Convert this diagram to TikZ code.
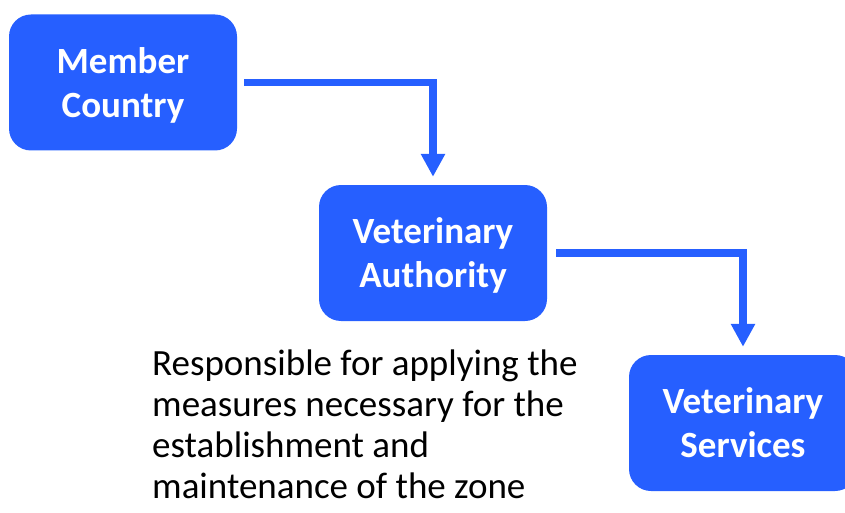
\documentclass[tikz,border=0pt]{standalone}
\usepackage{fontspec}
\setmainfont{Carlito}
\usetikzlibrary{arrows.meta,positioning}
\definecolor{oieblue}{RGB}{38,95,255}

\begin{document}
\begin{tikzpicture}[x=1pt,y=-1pt,
  box/.style={fill=oieblue,draw=none,rounded corners=22pt,minimum width=228pt,minimum height=136pt,
    inner sep=0pt,text depth=0pt,text=white,align=center,font=\fontsize{37}{44}\selectfont\bfseries},
  flow/.style={draw=oieblue,line width=7.5pt,-{Triangle[width=23pt,length=23pt]}}]
\useasboundingbox (0,0) rectangle (845,513);
% trois niveaux
\node[box] (mc) at (123,82.5) {Member\\Country};
\node[box] (va) at (433,253) {Veterinary\\Authority};
\node[box] (vs) at (743,423) {Veterinary\\Services};
% liens
\draw[flow] ([xshift=7pt]mc.east) -| ([yshift=8pt]va.north);
\draw[flow] ([xshift=9pt]va.east) -| ([yshift=8pt]vs.north);
% texte
\node[anchor=base west,inner sep=0pt,align=left,font=\fontsize{37}{41}\selectfont] (resp) at (152,498)
  {Responsible for applying the\\measures necessary for the\\establishment and\\maintenance of the zone};
\end{tikzpicture}
\end{document}
